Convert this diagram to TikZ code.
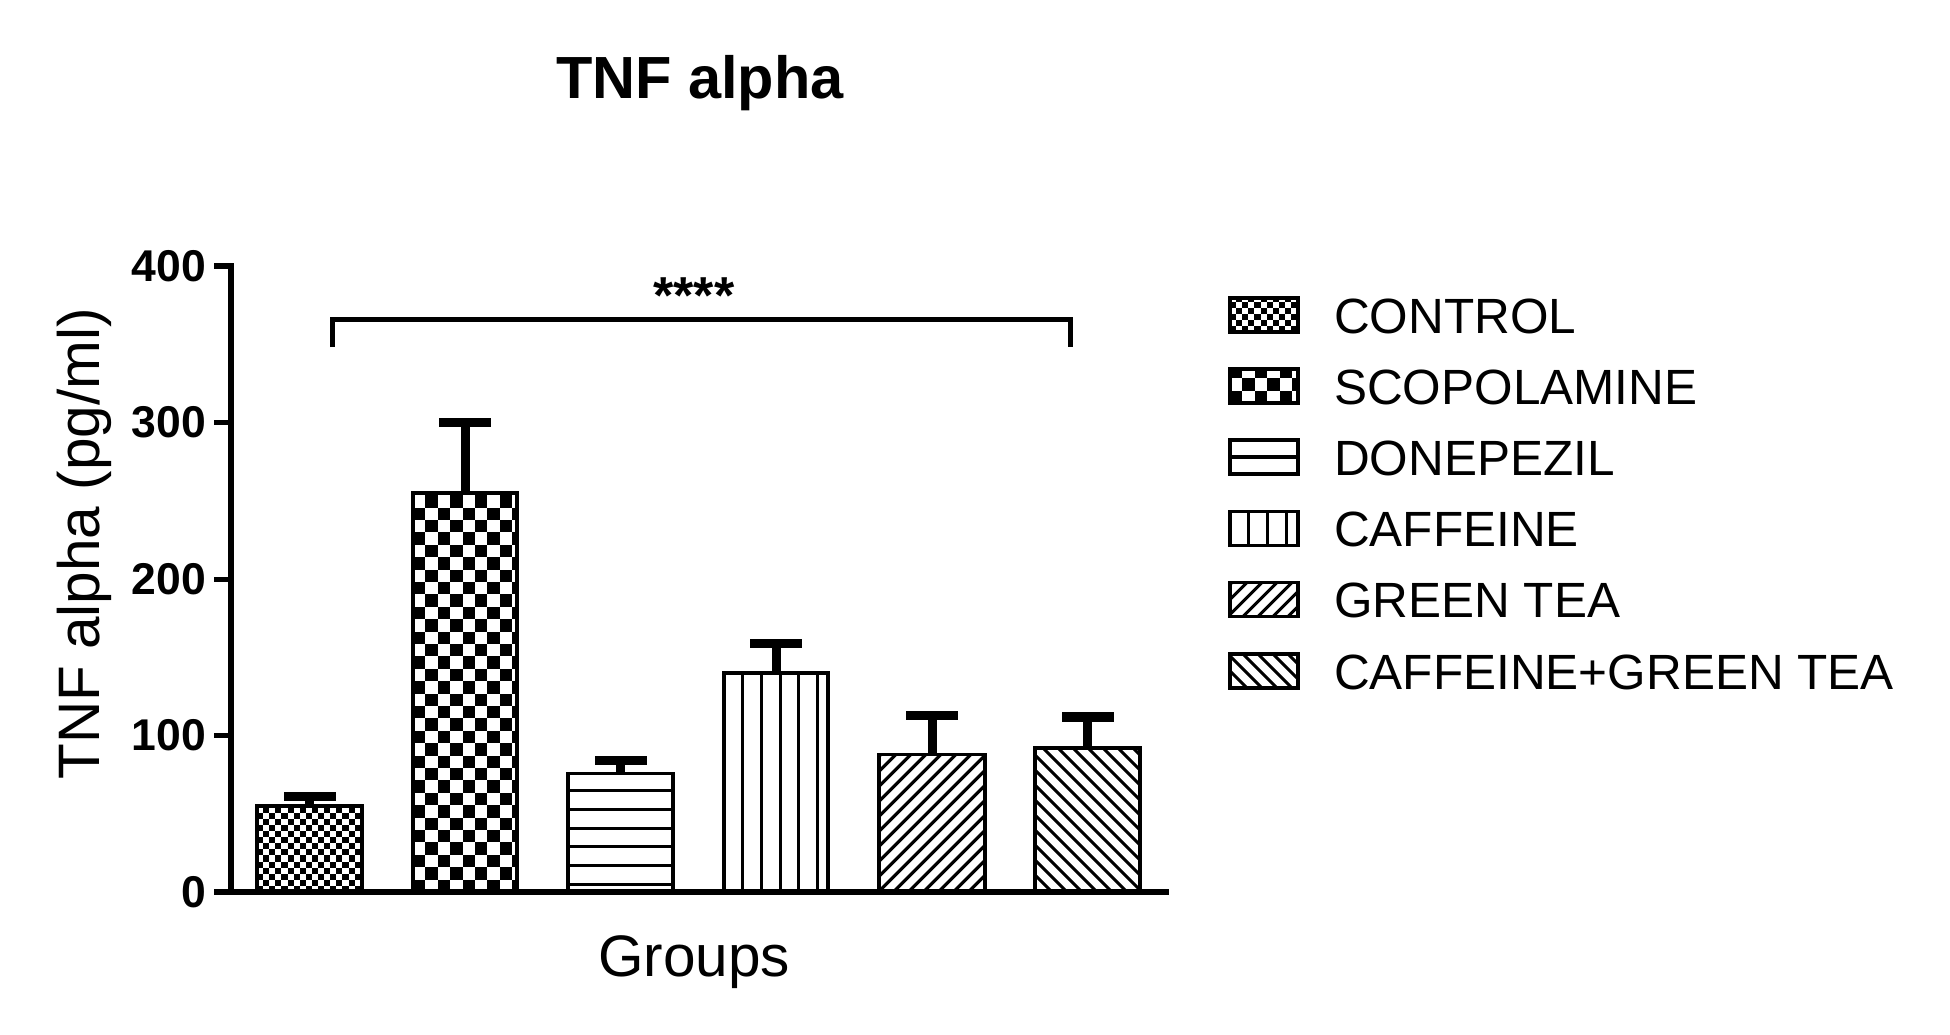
\documentclass[tikz,border=0pt]{standalone}
\usepackage{fontspec}
\setmainfont{Liberation Sans}
\newcommand{\ckboard}[5]{% x1 ytop x2 ybot size
  \begin{scope}
    \clip (#1,#2) rectangle (#3,#4);
    \pgfmathtruncatemacro{\cknx}{ceil((#3-#1)/#5)}
    \pgfmathtruncatemacro{\ckny}{ceil((#4-#2)/#5)}
    \foreach \i in {0,...,\cknx}{
      \foreach \j in {0,...,\ckny}{
        \pgfmathtruncatemacro{\ckpar}{mod(\i+\j,2)}
        \ifnum\ckpar=0
          \fill ({#1+\i*#5},{#4-\j*#5}) rectangle ++(#5,-#5);
        \fi
      }
    }
  \end{scope}}
\newcommand{\hatchhor}[6]{% x1 ytop x2 ybot spacing offset(from bottom)
  \begin{scope}
    \clip (#1,#2) rectangle (#3,#4);
    \pgfmathtruncatemacro{\hhn}{ceil((#4-#2)/#5)}
    \foreach \k in {0,...,\hhn}{
      \draw[hatchline] ({#1-2},{#4-#6-\k*#5}) -- ({#3+2},{#4-#6-\k*#5});
    }
  \end{scope}}
\newcommand{\hatchver}[6]{% x1 ytop x2 ybot spacing offset(from left)
  \begin{scope}
    \clip (#1,#2) rectangle (#3,#4);
    \pgfmathtruncatemacro{\hvn}{ceil((#3-#1)/#5)}
    \foreach \k in {0,...,\hvn}{
      \draw[hatchline] ({#1+#6+\k*#5},{#2-2}) -- ({#1+#6+\k*#5},{#4+2});
    }
  \end{scope}}
\newcommand{\hatchdiag}[6]{% x1 ytop x2 ybot spacing dir (1 = /, 0 = \)
  \begin{scope}
    \clip (#1,#2) rectangle (#3,#4);
    \pgfmathsetmacro{\hdh}{#4-#2}
    \pgfmathtruncatemacro{\hdn}{ceil((#3-#1+\hdh)/#5)+1}
    \foreach \k in {0,...,\hdn}{
      \ifnum#6=1
        \draw[hatchline] ({#1-\hdh+\k*#5},{#4+2}) -- ++({\hdh+6},{-\hdh-6});
      \else
        \draw[hatchline] ({#1-\hdh+\k*#5},{#2-2}) -- ++({\hdh+6},{\hdh+6});
      \fi
    }
  \end{scope}}
\newcommand{\errbar}[3]{% xc ytop yerr
  \draw[line width=9pt] (#1,#2) -- (#1,{#3+4});
  \fill (#1-26,#3) rectangle (#1+26,#3+9.5);}
\begin{document}
\begin{tikzpicture}[x=1pt,y=-1pt,
  barout/.style={draw=black, line width=3.2pt},
  hatchline/.style={line width=3.1pt, line cap=butt},
  axisline/.style={line width=5.5pt, line join=miter},
  ticklbl/.style={font=\fontsize{44.5}{44.5}\selectfont\bfseries, anchor=east, inner sep=0pt},
  legtext/.style={font=\fontsize{49.5}{49.5}\selectfont, anchor=base west, inner sep=0pt},
  legbox/.style={draw=black, line width=3.4pt}]
\useasboundingbox[fill=white] (0,0) rectangle (1950,1035);

% title
\node[font=\fontsize{59.5}{59.5}\selectfont\bfseries, anchor=base, inner sep=0pt] (title) at (700,99) {TNF alpha};

% bars
% CONTROL
\ckboard{257}{805.9}{362}{892}{6.1}
\draw[barout] (257,805.9) rectangle (362,892);
\errbar{309.5}{805.9}{791.8}
% SCOPOLAMINE
\ckboard{413}{492.9}{517}{892}{12.4}
\draw[barout] (413,492.9) rectangle (517,892);
\errbar{465}{492.9}{417.8}
% DONEPEZIL
\hatchhor{568}{773.1}{673}{892}{18.8}{7.5}
\draw[barout] (568,773.1) rectangle (673,892);
\errbar{620.5}{773.1}{755.8}
% CAFFEINE
\hatchver{724}{672.9}{828}{892}{18.8}{18.5}
\draw[barout] (724,672.9) rectangle (828,892);
\errbar{776}{672.9}{638.5}
% GREEN TEA
\hatchdiag{879}{754.3}{985}{892}{15}{1}
\draw[barout] (879,754.3) rectangle (985,892);
\errbar{932}{754.3}{710.5}
% CAFFEINE+GREEN TEA
\hatchdiag{1035}{748}{1140}{892}{15}{0}
\draw[barout] (1035,748) rectangle (1140,892);
\errbar{1087.5}{748}{712}

% axes
\draw[axisline] (214,266) -- (231,266) -- (231,894);
\draw[axisline] (214,892) -- (1169,892);
\foreach \yy in {422.5,579,735.5}{\draw[line width=5pt] (214,\yy) -- (231,\yy);}
\node[ticklbl] (t400) at (206,266) {400};
\node[ticklbl] (t300) at (206,422.5) {300};
\node[ticklbl] (t200) at (206,579) {200};
\node[ticklbl] (t100) at (206,735.5) {100};
\node[ticklbl] (t0) at (206,892) {0};

% axis labels
\node[font=\fontsize{58.5}{58.5}\selectfont, anchor=base, inner sep=0pt, rotate=90] (ylab) at (99,544) {TNF alpha (pg/ml)};
\node[font=\fontsize{58.5}{58.5}\selectfont, anchor=base, inner sep=0pt] (xlab) at (694,976) {Groups};

% significance bracket
\draw[line width=5pt, line join=miter] (332,347) -- (332,319) -- (1070,319) -- (1070,347);
\node[font=\fontsize{52}{52}\selectfont\bfseries, anchor=base, inner sep=0pt] (sig) at (694,313) {****};

% legend
\ckboard{1230}{298}{1298}{332}{6.1}
\draw[legbox] (1230,298) rectangle (1298,332);
\node[legtext] (l1) at (1334,333) {CONTROL};
\ckboard{1230}{369}{1298}{403}{12.4}
\draw[legbox] (1230,369) rectangle (1298,403);
\node[legtext] (l2) at (1334,404) {SCOPOLAMINE};
\draw[hatchline] (1230,457) -- (1298,457);
\draw[legbox] (1230,440) rectangle (1298,474);
\node[legtext] (l3) at (1334,475) {DONEPEZIL};
\hatchver{1230}{511.5}{1298}{545.5}{18.8}{18.5}
\draw[legbox] (1230,511.5) rectangle (1298,545.5);
\node[legtext] (l4) at (1334,546.5) {CAFFEINE};
\hatchdiag{1230}{582.5}{1298}{616.5}{15}{1}
\draw[legbox] (1230,582.5) rectangle (1298,616.5);
\node[legtext] (l5) at (1334,617.5) {GREEN TEA};
\hatchdiag{1230}{654}{1298}{688}{15}{0}
\draw[legbox] (1230,654) rectangle (1298,688);
\node[legtext] (l6) at (1334,689) {CAFFEINE+GREEN TEA};
\end{tikzpicture}
\end{document}
